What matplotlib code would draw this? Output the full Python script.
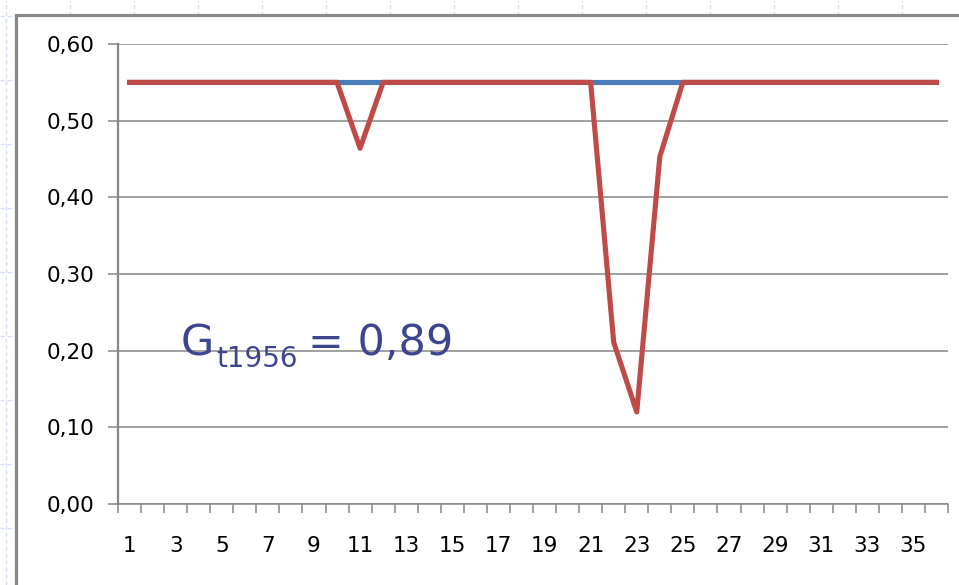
import matplotlib
matplotlib.use("Agg")
import matplotlib.pyplot as plt
from matplotlib.patches import Rectangle
from matplotlib.ticker import FixedLocator, FuncFormatter

# positions 1..36
periods = list(range(1, 37))
reference_level = [0.55] * 36
observed = [0.55] * 36
observed[10] = 0.464   # period 11
observed[21] = 0.211   # period 22
observed[22] = 0.12    # period 23
observed[23] = 0.453   # period 24
x_labels = [str(p) for p in range(1, 37, 2)]
y_ticks = [0.0, 0.1, 0.2, 0.3, 0.4, 0.5, 0.6]
caption = "= 0,89"
caption_sub = "t1956"

W, H = 959, 585
fig = plt.figure(figsize=(W / 100, H / 100), dpi=100)
fig.patch.set_facecolor("white")

# slide background: faint dashed grid, then white chart frame on top
bg = fig.add_axes([0, 0, 1, 1])
bg.set_xlim(0, W)
bg.set_ylim(H, 0)
bg.axis("off")
for gx in range(6, W, 64):
    bg.axvline(gx, color="#d6def4", lw=1.0, ls=(0, (3, 2)), zorder=1)
for gy in range(16, H, 64):
    bg.axhline(gy, color="#d6def4", lw=1.0, ls=(0, (3, 2)), zorder=1)
bg.add_patch(Rectangle((16, 14.5), W + 20, H + 20, facecolor="white",
                       edgecolor="#888888", lw=2.3, zorder=3))

ax = fig.add_axes([118 / W, 1 - 504 / H, (948 - 118) / W, (504 - 44) / H])
ax.set_facecolor("none")
ax.plot(periods, reference_level, color="#4a7ebb", lw=3.7, zorder=3)
ax.plot(periods, observed, color="#be4b48", lw=3.7, zorder=4)

ax.set_xlim(0.5, 36.5)
ax.set_ylim(0, 0.6)

ax.xaxis.set_major_locator(FixedLocator([k + 0.5 for k in range(0, 37)]))
ax.xaxis.set_major_formatter(FuncFormatter(lambda v, p: ""))
ax.xaxis.set_minor_locator(FixedLocator(list(range(1, 37, 2))))
ax.set_xticklabels(x_labels, minor=True)
ax.tick_params(axis="x", which="major", direction="out", length=6.5,
               width=1.1, color="#868686")
ax.tick_params(axis="x", which="minor", length=0, pad=23, labelsize=15.5,
               labelcolor="black")

ax.set_yticks(y_ticks)
ax.yaxis.set_major_formatter(FuncFormatter(lambda v, p: f"{v:.2f}".replace(".", ",")))
ax.tick_params(axis="y", direction="out", length=7.2, width=1.1,
               color="#868686", pad=10, labelsize=15.5)
ax.grid(axis="y", color="#868686", lw=1.1)
ax.set_axisbelow(True)

for side in ("top", "right"):
    ax.spines[side].set_visible(False)
ax.spines["left"].set_color("#868686")
ax.spines["left"].set_linewidth(1.6)
ax.spines["bottom"].set_color("#868686")
ax.spines["bottom"].set_linewidth(1.1)

# index label: G with subscript year, then the value
ink = "#3d4591"
fig.text(181 / W, 1 - 355 / H, "G", color=ink, fontsize=31,
         va="baseline", ha="left")
fig.text(216 / W, 1 - 367 / H, caption_sub, color=ink, fontsize=20,
         va="baseline", ha="left")
fig.text(308 / W, 1 - 355 / H, caption, color=ink, fontsize=31,
         va="baseline", ha="left")

fig.savefig("out.png", dpi=100)
